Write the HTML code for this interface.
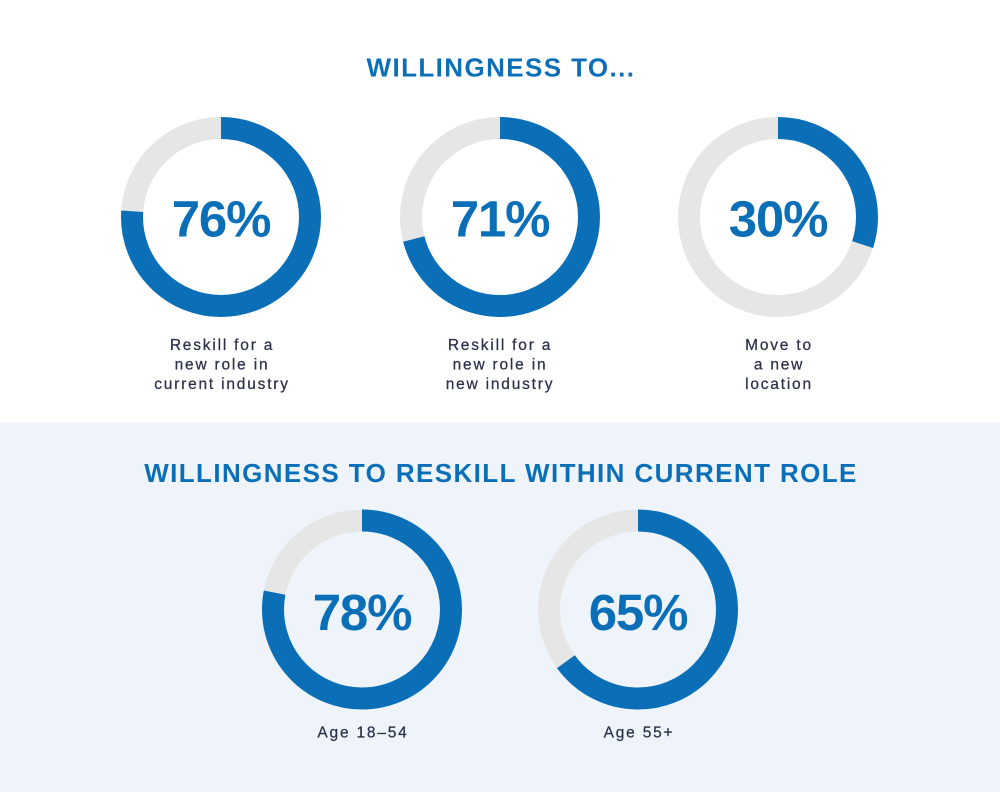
<!DOCTYPE html>
<html><head><meta charset="utf-8"><style>
html,body{margin:0;padding:0;background:#fff;}
svg{display:block;}
.t{font-family:"Liberation Sans",sans-serif;font-weight:bold;fill:#0b6fb8;font-size:26px;letter-spacing:1.4px;}
.p{font-family:"Liberation Sans",sans-serif;font-weight:bold;fill:#0b6fb8;font-size:51px;letter-spacing:-1.2px;}
.l{font-family:"Liberation Sans",sans-serif;fill:#2b3148;stroke:#2b3148;stroke-width:0.25px;font-size:15.5px;letter-spacing:1.8px;}
</style></head><body>
<svg width="1000" height="792" viewBox="0 0 1000 792" xmlns="http://www.w3.org/2000/svg">
<rect x="0" y="0" width="1000" height="422" fill="#ffffff"/>
<rect x="0" y="422" width="1000" height="370" fill="#eef4fa"/>
<text class="t" x="501" y="76.5" text-anchor="middle">WILLINGNESS TO...</text>
<text class="t" x="501" y="482" text-anchor="middle">WILLINGNESS TO RESKILL WITHIN CURRENT ROLE</text>

<g transform="translate(221,217)">
<circle r="89" fill="none" stroke="#e6e6e6" stroke-width="22"/>
<circle r="89" fill="none" stroke="#0b6fb8" stroke-width="22" stroke-dasharray="425.0 600" transform="rotate(-90)"/>
<text class="p" x="0" y="19.5" text-anchor="middle">76%</text>
</g>
<g transform="translate(500,217)">
<circle r="89" fill="none" stroke="#e6e6e6" stroke-width="22"/>
<circle r="89" fill="none" stroke="#0b6fb8" stroke-width="22" stroke-dasharray="397.0 600" transform="rotate(-90)"/>
<text class="p" x="0" y="19.5" text-anchor="middle">71%</text>
</g>
<g transform="translate(778,217)">
<circle r="89" fill="none" stroke="#e6e6e6" stroke-width="22"/>
<circle r="89" fill="none" stroke="#0b6fb8" stroke-width="22" stroke-dasharray="167.8 600" transform="rotate(-90)"/>
<text class="p" x="0" y="19.5" text-anchor="middle">30%</text>
</g>
<g transform="translate(362,609.5)">
<circle r="89" fill="none" stroke="#e6e6e6" stroke-width="22"/>
<circle r="89" fill="none" stroke="#0b6fb8" stroke-width="22" stroke-dasharray="436.2 600" transform="rotate(-90)"/>
<text class="p" x="0" y="20.5" text-anchor="middle">78%</text>
</g>
<g transform="translate(638,609.5)">
<circle r="89" fill="none" stroke="#e6e6e6" stroke-width="22"/>
<circle r="89" fill="none" stroke="#0b6fb8" stroke-width="22" stroke-dasharray="363.5 600" transform="rotate(-90)"/>
<text class="p" x="0" y="20.5" text-anchor="middle">65%</text>
</g>

<text class="l" x="222" y="350" text-anchor="middle">Reskill for a</text>
<text class="l" x="222" y="369.5" text-anchor="middle">new role in</text>
<text class="l" x="222" y="389" text-anchor="middle">current industry</text>

<text class="l" x="500" y="350" text-anchor="middle">Reskill for a</text>
<text class="l" x="500" y="369.5" text-anchor="middle">new role in</text>
<text class="l" x="500" y="389" text-anchor="middle">new industry</text>

<text class="l" x="779" y="350" text-anchor="middle">Move to</text>
<text class="l" x="779" y="369.5" text-anchor="middle">a new</text>
<text class="l" x="779" y="389" text-anchor="middle">location</text>

<text class="l" x="363" y="737.5" text-anchor="middle">Age 18–54</text>
<text class="l" x="639" y="737.5" text-anchor="middle">Age 55+</text>
</svg>
</body></html>
